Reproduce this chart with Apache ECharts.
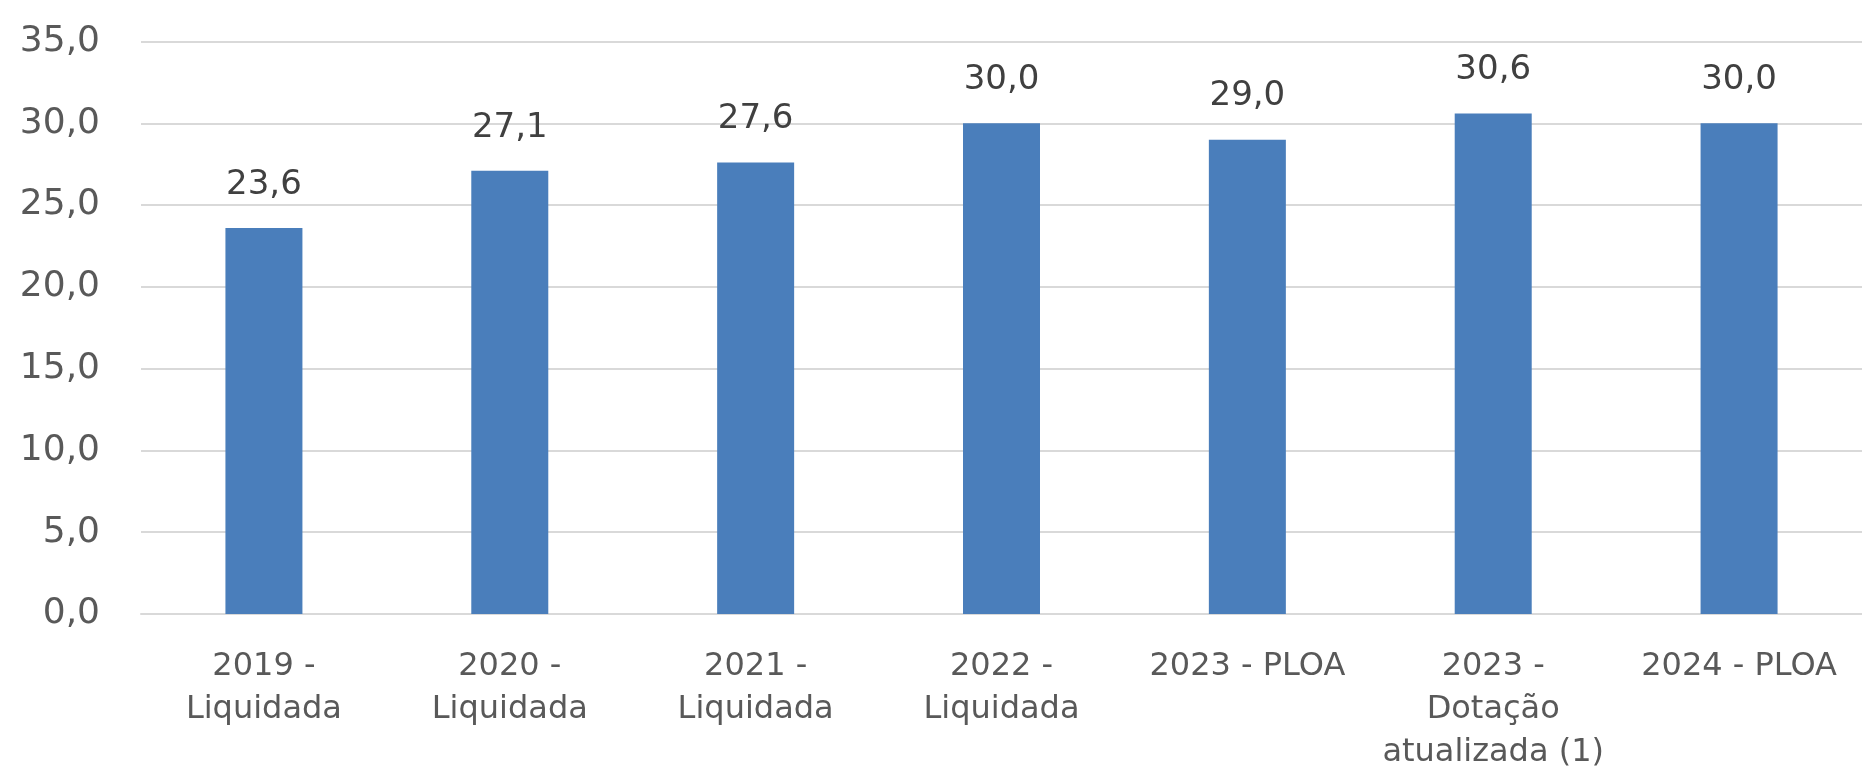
<!DOCTYPE html>
<html>
<head>
<meta charset="utf-8">
<script src="https://cdn.jsdelivr.net/npm/echarts@6/dist/echarts.min.js"></script>
<style>
html,body{margin:0;padding:0;background:#fff;}
#c{width:1862px;height:774px;}
</style>
</head>
<body>
<div id="c"></div>
<script>
const categories = ["2019 -\nLiquidada", "2020 -\nLiquidada", "2021 -\nLiquidada", "2022 -\nLiquidada", "2023 - PLOA", "2023 -\nDotação\natualizada (1)", "2024 - PLOA"];
const values = [23.6, 27.1, 27.6, 30.0, 29.0, 30.6, 30.0];
const yMin = 0, yMax = 35, yStep = 5;

const fmt = v => v.toFixed(1).replace('.', ',');

const chart = echarts.init(document.getElementById('c'));
chart.setOption({
  animation: false,
  backgroundColor: '#ffffff',
  grid: { left: 141, right: -6, top: 41.5, bottom: 152, containLabel: false },
  xAxis: {
    type: 'category',
    data: categories,
    axisLine: { show: true, lineStyle: { color: '#d9d9d9', width: 2 } },
    axisTick: { show: false },
    axisLabel: {
      interval: 0,
      margin: 31,
      fontFamily: 'DejaVu Sans',
      fontSize: 32,
      lineHeight: 43,
      color: '#595959'
    }
  },
  yAxis: {
    type: 'value',
    min: yMin, max: yMax, interval: yStep,
    axisLine: { show: false },
    axisTick: { show: false },
    splitLine: { lineStyle: { color: '#d9d9d9', width: 2 } },
    axisLabel: {
      margin: 41,
      fontFamily: 'DejaVu Sans',
      fontSize: 36,
      color: '#595959',
      formatter: v => fmt(v)
    }
  },
  series: [{
    type: 'bar',
    data: values,
    barWidth: 77,
    itemStyle: { color: '#4a7ebb' },
    label: {
      show: true,
      position: 'top',
      distance: 26,
      fontFamily: 'DejaVu Sans',
      fontSize: 34,
      color: '#404040',
      formatter: p => fmt(p.value)
    }
  }]
});
</script>
</body>
</html>
